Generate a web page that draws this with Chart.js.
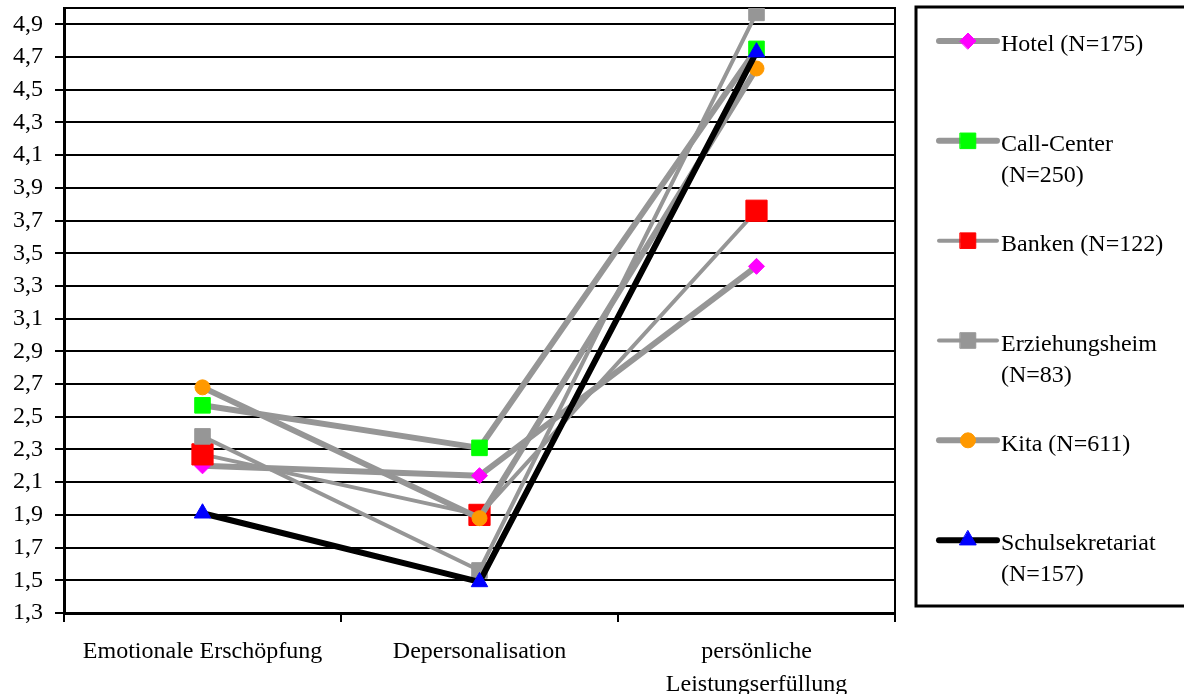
<!DOCTYPE html>
<html>
<head>
<meta charset="utf-8">
<script src="https://cdn.jsdelivr.net/npm/chart.js@4/dist/chart.umd.min.js"></script>
<style>
  html, body { margin: 0; padding: 0; background: #fff; }
  #wrap { position: relative; width: 1184px; height: 694px; }
</style>
</head>
<body>
<div id="wrap"><canvas id="chart"></canvas></div>
<script>
// categories and values
const categories = ['Emotionale Erschöpfung', 'Depersonalisation', ['persönliche', 'Leistungserfüllung']];
const yTicks = [1.3, 1.5, 1.7, 1.9, 2.1, 2.3, 2.5, 2.7, 2.9, 3.1, 3.3, 3.5, 3.7, 3.9, 4.1, 4.3, 4.5, 4.7, 4.9];

const hotel = [2.20, 2.14, 3.42];
const callCenter = [2.57, 2.31, 4.75];
const banken = [2.27, 1.90, 3.76];
const erziehungsheim = [2.38, 1.56, 4.97];
const kita = [2.68, 1.88, 4.63];
const schulsekretariat = [1.91, 1.49, 4.73];

const seriesNames = [
  ['Hotel (N=175)'],
  ['Call-Center', '(N=250)'],
  ['Banken (N=122)'],
  ['Erziehungsheim', '(N=83)'],
  ['Kita (N=611)'],
  ['Schulsekretariat', '(N=157)']
];

const FONT = "'Liberation Serif', 'Times New Roman', serif";
const GREY = '#969696';

function series(i, data, line, width, marker, color, radius) {
  return {
    label: seriesNames[i].join(' '),
    legendLines: seriesNames[i],
    data,
    borderColor: line,
    borderWidth: width,
    borderCapStyle: 'round',
    borderJoinStyle: 'round',
    pointStyle: marker,
    pointRadius: radius,
    pointHoverRadius: radius,
    pointBackgroundColor: color,
    pointBorderColor: color,
    pointBorderWidth: 1,
    tension: 0,
    fill: false,
    order: seriesNames.length - i   // later series drawn on top, like the original
  };
}

const datasets = [
  series(0, hotel, GREY, 6, 'rectRot', '#ff00ff', 8),
  series(1, callCenter, GREY, 6, 'rect', '#00ff00', 11),
  series(2, banken, GREY, 4, 'rect', '#ff0000', 15),
  series(3, erziehungsheim, GREY, 4, 'rect', GREY, 11),
  series(4, kita, GREY, 6, 'circle', '#ff9900', 7.5),
  series(5, schulsekretariat, '#000000', 6, 'triangle', '#0000ff', 9.5)
];

// top/right frame of the plot area
const frame = {
  id: 'frame',
  beforeDatasetsDraw(chart) {
    const { ctx, chartArea: a } = chart;
    ctx.save();
    ctx.strokeStyle = '#000';
    ctx.lineWidth = 2;
    ctx.beginPath();
    ctx.moveTo(a.left, a.top);
    ctx.lineTo(a.right, a.top);
    ctx.lineTo(a.right, a.bottom);
    ctx.stroke();
    ctx.restore();
  }
};

// boxed legend on the right, labels may wrap to two lines
const boxLegend = {
  id: 'boxLegend',
  afterDraw(chart) {
    const ctx = chart.ctx;
    const left = 916, top = 7, bottom = 606;
    const ds = chart.data.datasets;
    const slot = (bottom - top) / ds.length;
    ctx.save();
    ctx.lineWidth = 3;
    ctx.strokeStyle = '#000';
    ctx.strokeRect(left, top, chart.width - left + 10, bottom - top);
    ds.forEach((d, i) => {
      const y = top + slot * i + 34;
      ctx.beginPath();
      ctx.lineCap = 'round';
      ctx.lineWidth = d.borderWidth;
      ctx.strokeStyle = d.borderColor;
      ctx.moveTo(939, y);
      ctx.lineTo(997, y);
      ctx.stroke();
      ctx.fillStyle = d.pointBackgroundColor;
      ctx.strokeStyle = d.pointBorderColor;
      ctx.lineWidth = 1;
      Chart.helpers.drawPoint(ctx, { pointStyle: d.pointStyle, radius: Math.min(d.pointRadius, 11), rotation: 0, borderWidth: 1 }, 968, y);
      ctx.fillStyle = '#000';
      ctx.font = '24px ' + FONT;
      ctx.textAlign = 'left';
      ctx.textBaseline = 'middle';
      d.legendLines.forEach((t, k) => ctx.fillText(t, 1001, y + 4 + k * 31));
    });
    ctx.restore();
  }
};

Chart.defaults.font.family = FONT;
Chart.defaults.font.size = 24;
Chart.defaults.color = '#000';

new Chart(document.getElementById('chart'), {
  type: 'line',
  data: { labels: categories, datasets },
  options: {
    responsive: true,
    maintainAspectRatio: false,
    animation: false,
    layout: { autoPadding: false, padding: { left: 0, right: 289, top: 8, bottom: 0 } },
    plugins: { legend: { display: false }, tooltip: { enabled: false } },
    scales: {
      x: {
        offset: true,
        grid: { offset: true, drawOnChartArea: false, drawTicks: true, tickLength: 9, color: '#000', lineWidth: 2 },
        border: { color: '#000', width: 3 },
        ticks: { padding: 13, maxRotation: 0, autoSkip: false, font: { size: 24, lineHeight: 1.375 } },
        afterFit: s => { s.height = 81; s.paddingLeft = 0; s.paddingRight = 0; }
      },
      y: {
        min: 1.3,
        max: 5.0,
        afterBuildTicks: s => { s.ticks = yTicks.map(v => ({ value: v })); },
        grid: { color: '#000', lineWidth: 2, tickLength: 9 },
        border: { color: '#000', width: 3 },
        ticks: { padding: 12, callback: v => v.toFixed(1).replace('.', ',') },
        afterFit: s => { s.width = 64; s.paddingTop = 0; s.paddingBottom = 0; }
      }
    }
  },
  plugins: [frame, boxLegend]
});
</script>
</body>
</html>
